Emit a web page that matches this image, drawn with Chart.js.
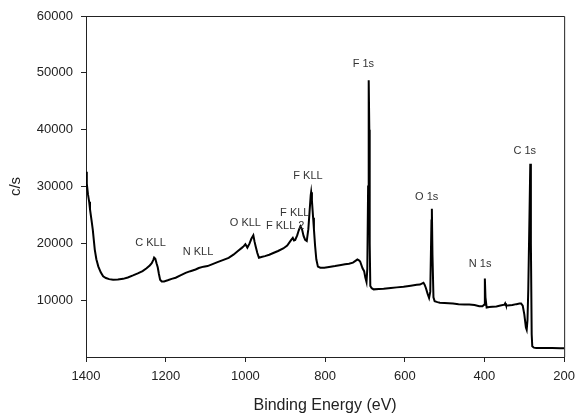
<!DOCTYPE html>
<html>
<head>
<meta charset="utf-8">
<script src="https://cdn.jsdelivr.net/npm/chart.js@4.4.1/dist/chart.umd.min.js"></script>
<style>
  body { margin: 0; background: #fff; }
  canvas { display: block; }
</style>
</head>
<body>
<canvas id="xpsChart" width="582" height="413"></canvas>
<script>
// survey spectrum, binding energy (eV) vs counts per second
const energy = [
  1400, 1398, 1395, 1392, 1390, 1386, 1383, 1380, 1378, 1374, 1369, 1363, 1357, 1350, 1342, 1332,
  1320, 1307, 1295, 1282, 1270, 1258, 1248, 1240, 1235, 1231, 1229, 1226, 1223, 1220, 1217, 1214,
  1210, 1204, 1195, 1185, 1175, 1163, 1150, 1138, 1125, 1117, 1105, 1095, 1084, 1070, 1055, 1042,
  1030, 1018, 1009, 1004, 1000, 995, 990, 985, 980, 977, 974, 970, 966, 960, 951, 940,
  930, 918, 905, 895, 885, 881, 878, 875, 870, 866, 862, 858, 854, 850, 846, 842,
  839, 836, 835, 833, 830, 828, 825, 822, 818, 812, 802, 790, 775, 760, 750, 740,
  730, 722, 719, 715, 712, 706, 702, 699, 696, 694, 692, 690.5, 689, 688, 686.5, 683,
  678, 665, 653, 635, 620, 603, 585, 570, 562, 556, 553, 550, 547, 543, 539, 536,
  533, 532, 530.5, 528, 525, 518, 512, 500, 490, 479, 465, 450, 438, 425, 413, 405,
  401, 399, 397.5, 394.5, 388, 380, 370, 360, 350, 348, 346, 342, 330, 320, 312, 308,
  304, 300, 296, 294, 292, 290, 287, 285, 283.5, 281.5, 280, 276, 270, 250, 230, 210,
  200
];
const counts = [
  32600, 30500, 28600, 27300, 26000, 24000, 22400, 20300, 18900, 17200, 15900, 14900, 14200, 13900, 13700, 13600,
  13650, 13750, 14000, 14350, 14700, 15100, 15600, 16100, 16500, 17100, 17500, 17300, 16500, 15800, 14600, 13600,
  13300, 13300, 13500, 13750, 13950, 14350, 14800, 15100, 15400, 15650, 15900, 16000, 16300, 16700, 17100, 17450,
  18000, 18700, 19200, 19500, 19850, 19250, 19900, 20800, 21400, 20300, 19400, 18300, 17450, 17600, 17750, 18000,
  18300, 18650, 19100, 19600, 20600, 20950, 20500, 20600, 21400, 22300, 23000, 22500, 21300, 20600, 20400, 22500,
  25500, 28500, 29000, 27500, 24500, 22500, 19500, 17200, 15900, 15700, 15700, 15850, 16000, 16200, 16300, 16400,
  16600, 17000, 17150, 17000, 16800, 15600, 15100, 14000, 13200, 15500, 30000, 48700, 40000, 20000, 12500, 12100,
  11900, 11950, 12000, 12150, 12250, 12350, 12550, 12700, 12750, 12950, 13050, 12700, 12150, 11200, 10400, 11500,
  24000, 26100, 18000, 10500, 9800, 9650, 9550, 9500, 9450, 9400, 9300, 9250, 9250, 9150, 8950, 8950,
  9200, 13800, 10500, 8700, 8800, 8850, 8900, 9050, 9200, 9450, 9100, 9050, 9150, 9300, 9400, 9400,
  9050, 7500, 5200, 4800, 6500, 12000, 25000, 34000, 20000, 4000, 1900, 1650, 1600, 1580, 1570, 1560,
  1550
];

// peak assignments: text, energy, counts where the text sits
const peakNames = ['C KLL', 'N KLL', 'O KLL', 'F KLL 2', 'F KLL', 'F KLL', 'F 1s', 'O 1s', 'N 1s', 'C 1s'];
const peakEnergy = [1238, 1119, 1000, 900, 876, 843, 704, 545, 411, 299];
const peakCounts = [20000, 18400, 23500, 23100, 25400, 31800, 51600, 28240, 16450, 36330];

const xTicks = [1400, 1200, 1000, 800, 600, 400, 200];
const yTicks = [10000, 20000, 30000, 40000, 50000, 60000];

Chart.defaults.font.family = "'Liberation Sans', Arial, sans-serif";
Chart.defaults.color = '#222';

const spectrum = energy.map((e, i) => ({ x: e, y: counts[i] }));

const frame = {
  id: 'frame',
  afterDraw(chart) {
    const { ctx, chartArea: a } = chart;
    ctx.save();
    ctx.strokeStyle = '#222';
    ctx.lineWidth = 1;
    ctx.beginPath();
    ctx.moveTo(a.left, a.top + 0.5);
    ctx.lineTo(a.right + 0.5, a.top + 0.5);
    ctx.lineTo(a.right + 0.5, a.bottom);
    ctx.stroke();
    ctx.restore();
  }
};

const peakLabels = {
  id: 'peakLabels',
  afterDatasetsDraw(chart) {
    const { ctx, scales: { x, y } } = chart;
    ctx.save();
    ctx.font = "11px 'Liberation Sans', Arial, sans-serif";
    ctx.fillStyle = '#333';
    ctx.textAlign = 'center';
    ctx.textBaseline = 'middle';
    peakNames.forEach((name, i) => {
      ctx.fillText(name, x.getPixelForValue(peakEnergy[i]), y.getPixelForValue(peakCounts[i]));
    });
    ctx.restore();
  }
};

const ctx = document.getElementById('xpsChart').getContext('2d');
const xpsChart = new Chart(ctx, {
  type: 'line',
  data: {
    datasets: [{
      data: spectrum,
      borderColor: '#000',
      borderWidth: 2,
      pointRadius: 0,
      tension: 0,
      fill: false
    }]
  },
  options: {
    responsive: false,
    animation: false,
    devicePixelRatio: 1,
    layout: { padding: { top: 16, right: 13, left: 0, bottom: 0 } },
    plugins: {
      legend: { display: false },
      tooltip: { enabled: false }
    },
    scales: {
      x: {
        type: 'linear',
        reverse: true,
        min: 200,
        max: 1400,
        afterBuildTicks: s => { s.ticks = xTicks.map(v => ({ value: v })); },
        afterFit: s => { s.height = 56; },
        ticks: { font: { size: 13 }, padding: 7, maxRotation: 0, callback: v => String(v) },
        grid: { drawOnChartArea: false, tickLength: 5, color: '#222' },
        border: { color: '#222', width: 1 },
        title: {
          display: true,
          text: 'Binding Energy (eV)',
          font: { size: 16, lineHeight: 0.9 },
          padding: { top: 0, bottom: 0 }
        }
      },
      y: {
        min: 0,
        max: 60000,
        afterBuildTicks: s => { s.ticks = yTicks.map(v => ({ value: v })); },
        afterFit: s => { s.width = 86; },
        ticks: { font: { size: 13 }, padding: 8, callback: v => String(v) },
        grid: { drawOnChartArea: false, tickLength: 5, color: '#222' },
        border: { color: '#222', width: 1 },
        title: {
          display: true,
          text: 'c/s',
          font: { size: 15 },
          padding: { top: 7, bottom: 0 }
        }
      }
    }
  },
  plugins: [frame, peakLabels]
});
</script>
</body>
</html>
